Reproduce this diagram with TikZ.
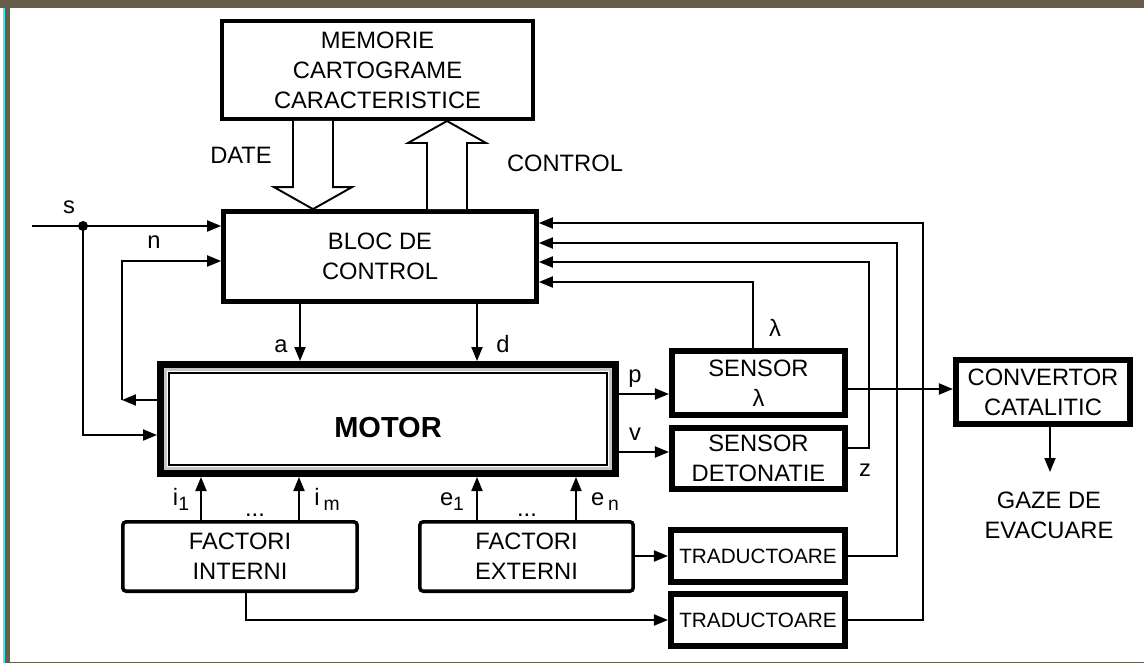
\documentclass[tikz,border=0pt]{standalone}
\usepackage{fontspec}
\setmainfont{Liberation Sans}
\usepackage{tikz}
\usetikzlibrary{arrows.meta, positioning, calc}
\definecolor{cFrame}{RGB}{102,94,72}
\definecolor{cEdge}{RGB}{72,232,236}
\newcommand{\sbx}[1]{\raisebox{-0.45ex}{\fontsize{11}{13}\selectfont #1}}
\tikzset{
	blk/.style   ={rectangle, draw=black, line width=3pt, align=center, inner sep=0pt, font=\fontsize{13.5}{17}\selectfont},
	fblk/.style  ={rectangle, draw=black, line width=2pt, rounded corners=2pt, align=center, inner sep=0pt, font=\fontsize{13.5}{17}\selectfont},
	sig/.style   ={-{Triangle[length=0.28cm, width=0.22cm]}, line width=1.1pt},
	wire/.style  ={line width=1.1pt},
	lbl/.style   ={anchor=base, inner sep=0pt, font=\fontsize{13.5}{17}\selectfont},
	hollow/.style={draw=black, line width=1.1pt, fill=white, line join=miter},
}

\begin{document}
\begin{tikzpicture}[x=0.02cm, y=-0.02cm]
	\useasboundingbox (0,0) rectangle (1144,663);
	% frame
	\fill[cFrame] (0,0) rectangle (1144,7.5);
	\fill[cEdge] (2.7,7.5) rectangle (4.7,663);
	\fill[cFrame] (4.7,7.5) rectangle (10,663);
	\fill[cFrame] (4.7,661.5) rectangle (1144,663);
	% blocks
	\node[blk, line width=2pt, minimum width=6.23cm, minimum height=1.97cm] (mem) at (377.5,70) {MEMORIE\\CARTOGRAME\\CARACTERISTICE};
	\node[blk, minimum width=6.25cm, minimum height=1.79cm] (bloc) at (380,256.5) {BLOC DE\\CONTROL};
	\node[blk, line width=4pt, minimum width=9.1cm, minimum height=2.18cm, font=\fontsize{16.5}{20}\selectfont\bfseries, text height=0.74cm, text depth=0pt] (motor) at (388,419) {MOTOR};
	\draw[gray!45, line width=1.2pt] ([xshift=0.17cm, yshift=0.17cm]motor.south west) rectangle ([xshift=-0.17cm, yshift=-0.17cm]motor.north east);
	\draw[line width=0.9pt] ([xshift=0.24cm, yshift=0.24cm]motor.south west) rectangle ([xshift=-0.24cm, yshift=-0.24cm]motor.north east);
	\node[blk, line width=3.2pt, minimum width=3.47cm, minimum height=1.29cm] (sl) at (758.5,383) {SENSOR\\λ};
	\node[blk, line width=3.2pt, minimum width=3.47cm, minimum height=1.23cm] (sd) at (758.5,458.5) {SENSOR\\DETONATIE};
	\node[blk, line width=3.5pt, minimum width=3.48cm, minimum height=1.28cm] (conv) at (1043,392) {CONVERTOR\\CATALITIC};
	\node[blk, line width=3.2pt, minimum width=3.49cm, minimum height=1.05cm, font=\fontsize{11.8}{14}\selectfont] (tr1) at (758,556) {TRADUCTOARE};
	\node[blk, line width=3.2pt, minimum width=3.49cm, minimum height=1.05cm, font=\fontsize{11.8}{14}\selectfont] (tr2) at (758,620) {TRADUCTOARE};
	\node[fblk, minimum width=4.69cm, minimum height=1.39cm] (fi) at (240,556.5) {FACTORI\\INTERNI};
	\node[fblk, minimum width=4.27cm, minimum height=1.39cm] (fe) at (526.5,556.5) {FACTORI\\EXTERNI};
	\node[lbl, anchor=north, align=center, inner ysep=0.4cm] (gaze) at (1049,472) {GAZE DE\\EVACUARE};
	% DATE / CONTROL
	\coordinate (dt) at (313,0);
	\coordinate (ct) at (447,0);
	\draw[hollow] ($(mem.south -| dt)+(-20,0)$) -- ($(bloc.north -| dt)+(-20,-22)$) -- ($(bloc.north -| dt)+(-39,-22)$) -- (bloc.north -| dt) -- ($(bloc.north -| dt)+(39,-22)$) -- ($(bloc.north -| dt)+(20,-22)$) -- ($(mem.south -| dt)+(20,0)$);
	\draw[hollow] ($(bloc.north -| ct)+(-20,0)$) -- ($(mem.south -| ct)+(-20,22)$) -- ($(mem.south -| ct)+(-39,22)$) -- (mem.south -| ct) -- ($(mem.south -| ct)+(39,22)$) -- ($(mem.south -| ct)+(20,22)$) -- ($(bloc.north -| ct)+(20,0)$);
	\node[lbl] (lDate) at (241,163) {DATE};
	\node[lbl] (lCtrl) at (565,171) {CONTROL};
	% inputs s and n
	\coordinate (sin) at (32,226);
	\coordinate (sdot) at (83,226);
	\coordinate (nc) at (122,400);
	\draw[wire] (sin) -- (sdot);
	\draw[sig] (sdot) -- (bloc.west |- sdot);
	\draw[sig] (sdot) |- ([yshift=-0.32cm]motor.west);
	\fill (sdot) circle[radius=0.1cm];
	\draw[sig] ([yshift=0.38cm]motor.west) -- (nc);
	\draw[sig] (nc) |- ([yshift=-0.09cm]bloc.west);
	\node[lbl] (lS) at (69,213) {s};
	\node[lbl] (lN) at (154,248) {n};
	% commands a, d
	\coordinate (xa) at (300,0);
	\coordinate (xd) at (477,0);
	\draw[sig] (bloc.south -| xa) -- (motor.north -| xa);
	\draw[sig] (bloc.south -| xd) -- (motor.north -| xd);
	\node[lbl] (lA) at (281,352) {a};
	\node[lbl] (lD) at (503,352) {d};
	% motor outputs
	\coordinate (pp) at ([yshift=-0.22cm]sl.west);
	\coordinate (vv) at ([yshift=0.13cm]sd.west);
	\draw[sig] (motor.east |- pp) -- (pp);
	\draw[sig] (motor.east |- vv) -- (vv);
	\node[lbl] (lP) at (635,382) {p};
	\node[lbl] (lV) at (635,440) {v};
	% feedback to control block
	\coordinate (fl) at (753,282);
	\coordinate (fz) at (869,262);
	\coordinate (ft1) at (897,243);
	\coordinate (ft2) at (923,223);
	\draw[sig] (sl.north -| fl) -- (fl) -- (bloc.east |- fl);
	\draw[sig] ([yshift=0.21cm]sd.east) -| (fz) -- (bloc.east |- fz);
	\draw[sig] (tr1.east) -| (ft1) -- (bloc.east |- ft1);
	\draw[sig] (tr2.east) -| (ft2) -- (bloc.east |- ft2);
	\node[lbl] (lL) at (775,336) {λ};
	\node[lbl] (lZ) at (865,476) {z};
	% exhaust
	\coordinate (cc) at ([yshift=-0.12cm]sl.east);
	\coordinate (cg) at ([xshift=0.14cm]conv.south);
	\draw[sig] (cc) -- (conv.west |- cc);
	\draw[sig] (cg) -- (gaze.north -| cg);
	% factors
	\coordinate (xi1) at (201,0);
	\coordinate (xim) at (299,0);
	\coordinate (xen) at (576,0);
	\draw[sig] (fi.north -| xi1) -- (motor.south -| xi1);
	\draw[sig] (fi.north -| xim) -- (motor.south -| xim);
	\draw[sig] (fe.north -| xd) -- (motor.south -| xd);
	\draw[sig] (fe.north -| xen) -- (motor.south -| xen);
	\node[lbl] (lI1) at (181,505) {i\sbx{1}};
	\node[lbl] (lIm) at (327,505) {i\,\sbx{m}};
	\node[lbl] (lE1) at (452,505) {e\sbx{1}};
	\node[lbl] (lEn) at (605,505) {e\,\sbx{n}};
	\node[lbl] (lDi) at (255,516) {...};
	\node[lbl] (lDe) at (527,516) {...};
	\draw[sig] (fe.east |- tr1) -- (tr1.west);
	\draw[sig] ([xshift=0.12cm]fi.south) |- (tr2.west);
\end{tikzpicture}
\end{document}
